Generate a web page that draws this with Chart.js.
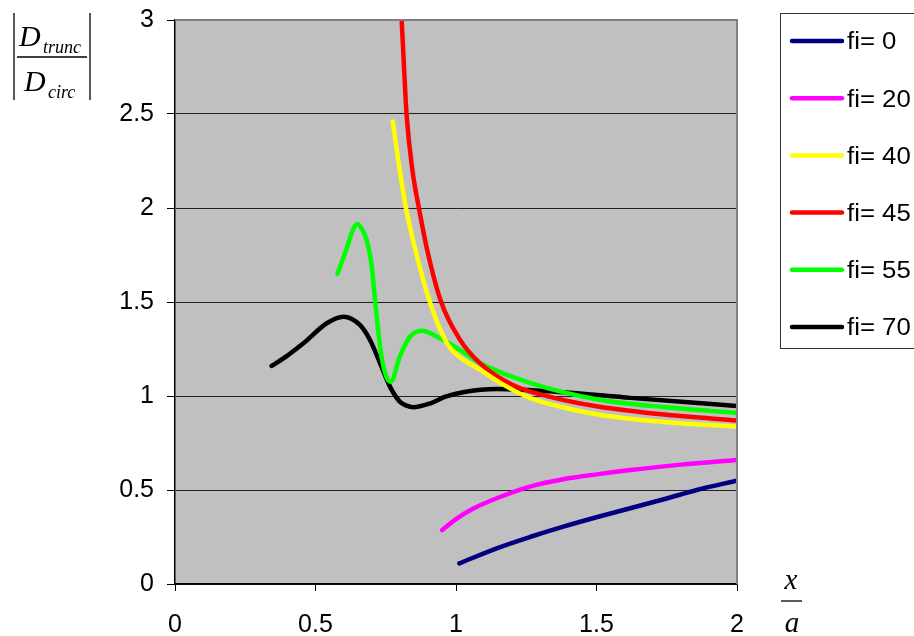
<!DOCTYPE html>
<html>
<head>
<meta charset="utf-8">
<title>fi curves</title>
<script src="https://cdn.jsdelivr.net/npm/chart.js@4"></script>
<style>
  body { margin: 0; background: #fff; }
</style>
</head>
<body>
<canvas id="graph" width="914" height="636"></canvas>
<script>
// series labels and colours
let seriesLabels = ['fi= 0', 'fi= 20', 'fi= 40', 'fi= 45', 'fi= 55', 'fi= 70'];
let seriesColors = ['#000080', '#ff00ff', '#ffff00', '#ff0000', '#00ff00', '#000000'];

// fi = 0
let fi0_x = [1.012, 1.145, 1.263, 1.382, 1.5, 1.62, 1.75, 1.857, 2.0];
let fi0_y = [0.11, 0.19, 0.25, 0.305, 0.355, 0.403, 0.455, 0.50, 0.55];

// fi = 20
let fi20_x = [0.951, 1.0, 1.06, 1.145, 1.263, 1.382, 1.5, 1.62, 1.8, 2.0];
let fi20_y = [0.287, 0.345, 0.40, 0.456, 0.518, 0.557, 0.583, 0.606, 0.635, 0.66];

// fi = 40
let fi40_x = [0.775, 0.79, 0.805, 0.822, 0.86, 0.907, 0.968, 1.02, 1.085, 1.157, 1.263, 1.38, 1.51, 1.75, 2.0];
let fi40_y = [2.46, 2.3, 2.15, 2.0, 1.75, 1.5, 1.28, 1.2, 1.14, 1.07, 0.99, 0.94, 0.90, 0.86, 0.837];

// fi = 45
let fi45_x = [0.805, 0.815, 0.824, 0.845, 0.868, 0.9, 0.947, 1.014, 1.085, 1.2, 1.35, 1.51, 1.75, 2.0];
let fi45_y = [3.05, 2.75, 2.5, 2.2, 2.0, 1.76, 1.5, 1.3, 1.175, 1.06, 0.99, 0.943, 0.9, 0.87];

// fi = 55
let fi55_x = [0.578, 0.61, 0.635, 0.65, 0.662, 0.682, 0.70, 0.712, 0.724, 0.735, 0.753, 0.768, 0.80, 0.836, 0.878, 0.943, 1.014, 1.085, 1.263, 1.51, 1.75, 2.0];
let fi55_y = [1.65, 1.78, 1.89, 1.915, 1.895, 1.83, 1.69, 1.51, 1.335, 1.21, 1.10, 1.076, 1.21, 1.315, 1.347, 1.307, 1.245, 1.175, 1.07, 0.98, 0.94, 0.91];

// fi = 70
let fi70_x = [0.344, 0.40, 0.457, 0.54, 0.599, 0.658, 0.694, 0.730, 0.765, 0.80, 0.822, 0.848, 0.907, 0.96, 1.025, 1.146, 1.38, 1.62, 2.0];
let fi70_y = [1.16, 1.215, 1.28, 1.387, 1.422, 1.378, 1.298, 1.174, 1.05, 0.97, 0.95, 0.94, 0.96, 0.995, 1.02, 1.037, 1.02, 0.99, 0.947];

let seriesX = [fi0_x, fi20_x, fi40_x, fi45_x, fi55_x, fi70_x];
let seriesY = [fi0_y, fi20_y, fi40_y, fi45_y, fi55_y, fi70_y];

let tickFont = { family: 'Liberation Sans', size: 25 };

let graph_datasets = seriesLabels.map((label, i) => ({
    label: label,
    data: seriesX[i].map((x, j) => ({ x: x, y: seriesY[i][j] })),
    borderColor: seriesColors[i],
    backgroundColor: seriesColors[i],
    borderWidth: 4.5,
    borderCapStyle: 'round',
    borderJoinStyle: 'round',
    pointRadius: 0,
    fill: false,
    cubicInterpolationMode: 'monotone',
    clip: 0
}));

// grey plot background and the grey top/right frame
let plotArea = {
    id: 'plotArea',
    beforeDraw(chart) {
        let a = chart.chartArea;
        let ctx = chart.ctx;
        ctx.save();
        ctx.fillStyle = '#c0c0c0';
        ctx.fillRect(a.left, a.top, a.right - a.left, a.bottom - a.top);
        ctx.restore();
    },
    afterDraw(chart) {
        let a = chart.chartArea;
        let ctx = chart.ctx;
        ctx.save();
        ctx.strokeStyle = '#808080';
        ctx.lineWidth = 2;
        ctx.beginPath();
        ctx.moveTo(a.left, a.top);
        ctx.lineTo(a.right, a.top);
        ctx.lineTo(a.right, a.bottom);
        ctx.stroke();
        ctx.restore();
    }
};

// boxed legend on the right
let sideLegend = {
    id: 'sideLegend',
    afterDraw(chart) {
        let ctx = chart.ctx;
        ctx.save();
        ctx.strokeStyle = '#333';
        ctx.lineWidth = 1;
        ctx.strokeRect(780.5, 13.5, 150, 335);
        chart.data.datasets.forEach((ds, i) => {
            let y = 41 + i * 57.2;
            ctx.strokeStyle = ds.borderColor;
            ctx.lineWidth = 4.5;
            ctx.lineCap = 'round';
            ctx.beginPath();
            ctx.moveTo(792, y);
            ctx.lineTo(842, y);
            ctx.stroke();
            // label text is a little wider than the font
            ctx.save();
            ctx.translate(847, y + 2);
            ctx.scale(1.12, 1);
            ctx.font = '23px "Liberation Sans"';
            ctx.textBaseline = 'middle';
            ctx.textAlign = 'left';
            ctx.fillStyle = '#000';
            ctx.fillText(ds.label, 0, 0);
            ctx.restore();
        });
        ctx.restore();
    }
};

// axis titles: |D_trunc / D_circ| and x / a
let axisTitles = {
    id: 'axisTitles',
    afterDraw(chart) {
        let ctx = chart.ctx;
        ctx.save();
        ctx.fillStyle = '#000';
        ctx.strokeStyle = '#000';
        ctx.lineWidth = 1.3;
        ctx.textBaseline = 'alphabetic';
        ctx.textAlign = 'left';

        // abs bars
        ctx.beginPath();
        ctx.moveTo(14, 13); ctx.lineTo(14, 100);
        ctx.moveTo(90, 13); ctx.lineTo(90, 100);
        ctx.stroke();
        // fraction bar
        ctx.beginPath();
        ctx.moveTo(17, 57); ctx.lineTo(87, 57);
        ctx.stroke();

        ctx.font = 'italic 30px "Liberation Serif"';
        ctx.fillText('D', 19, 46);
        ctx.fillText('D', 24, 91);
        ctx.font = 'italic 18px "Liberation Serif"';
        ctx.fillText('trunc', 43, 53);
        ctx.fillText('circ', 48, 98);

        // x / a
        ctx.font = 'italic 29px "Liberation Serif"';
        ctx.textAlign = 'center';
        ctx.fillText('x', 791, 589);
        ctx.fillText('a', 792, 632);
        ctx.beginPath();
        ctx.moveTo(781, 601); ctx.lineTo(802, 601);
        ctx.stroke();
        ctx.restore();
    }
};

let graph_options = {
    responsive: false,
    animation: false,
    devicePixelRatio: 1,
    layout: { padding: { top: 20, right: 177, left: 0, bottom: 0 } },
    plugins: {
        legend: { display: false },
        tooltip: { enabled: false }
    },
    scales: {
        x: {
            type: 'linear',
            min: 0,
            max: 2,
            afterFit(scale) {
                scale.height = 52;
                scale.paddingLeft = 0;
                scale.paddingRight = 0;
            },
            border: { color: '#000', width: 1.5 },
            grid: { drawOnChartArea: false, color: '#000', tickLength: 7 },
            ticks: {
                stepSize: 0.5,
                font: tickFont,
                color: '#000',
                padding: 19,
                callback: (v) => String(v)
            }
        },
        y: {
            type: 'linear',
            min: 0,
            max: 3,
            afterFit(scale) {
                scale.width = 175;
                scale.paddingTop = 0;
                scale.paddingBottom = 0;
            },
            border: { color: '#000', width: 1.5 },
            grid: { color: '#202020', lineWidth: 1, tickLength: 8, tickColor: '#000' },
            ticks: {
                stepSize: 0.5,
                font: tickFont,
                color: '#000',
                padding: 13,
                callback: (v) => String(v)
            }
        }
    }
};

let graph_chart = new Chart(document.getElementById('graph'), {
    type: 'line',
    data: { datasets: graph_datasets },
    options: graph_options,
    plugins: [plotArea, sideLegend, axisTitles]
});
</script>
</body>
</html>
